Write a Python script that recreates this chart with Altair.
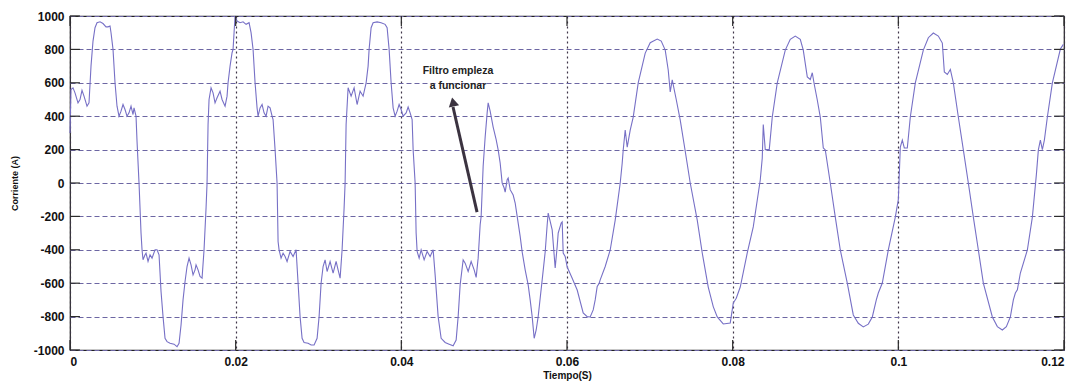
import altair as alt
import pandas as pd

# Time samples (ms) and line current (A)
t_ms = [
    0.000, 0.121, 0.362, 0.604, 0.966, 1.208, 1.449, 1.691, 2.053, 2.295,
    2.536, 2.778, 3.019, 3.261, 3.623, 3.985, 4.348, 4.589, 4.831, 4.952,
    5.193, 5.435, 5.676, 5.918, 6.159, 6.401, 6.642, 6.884, 7.126, 7.367,
    7.609, 7.729, 7.971, 8.092, 8.333, 8.575, 8.696, 8.816, 9.058, 9.179,
    9.420, 9.662, 9.903, 10.266, 10.507, 10.749, 10.990, 11.232, 11.473, 11.715,
    12.077, 12.560, 12.922, 13.164, 13.406, 13.647, 13.889, 14.130, 14.372, 14.613,
    14.855, 15.096, 15.217, 15.459, 15.700, 15.942, 16.183, 16.425, 16.546,
    16.667, 16.787, 17.029, 17.270, 17.512, 17.754, 18.116, 18.357, 18.720, 18.961,
    19.082, 19.323, 19.565, 19.686, 19.806, 19.927, 20.169, 20.531, 20.893, 21.256,
    21.618, 21.859, 22.101, 22.342, 22.584, 22.705, 22.946, 23.188, 23.429, 23.671,
    23.912, 24.154, 24.396, 24.516, 24.758, 24.999, 25.120, 25.241, 25.482, 25.724,
    25.966, 26.207, 26.569, 26.932, 27.294, 27.536, 27.777, 28.019, 28.260, 28.743,
    29.106, 29.468, 29.830, 30.072, 30.313, 30.555, 30.796, 31.038, 31.400, 31.763,
    32.125, 32.366, 32.608, 32.849, 33.091, 33.212,
    33.333, 33.574, 33.936, 34.299, 34.661, 35.023, 35.386, 35.748, 35.989, 36.110,
    36.352, 36.593, 37.076, 37.559, 38.043, 38.284, 38.526, 38.767, 39.009, 39.250,
    39.492, 39.733, 39.975, 40.216, 40.579, 40.820, 41.062, 41.303, 41.424, 41.666,
    41.786, 41.907, 42.149, 42.390, 42.753, 43.115, 43.477, 43.840, 44.081, 44.443,
    44.806, 45.289, 45.772, 46.255, 46.617, 46.859, 47.100, 47.463, 47.704, 48.066,
    48.429, 48.791, 49.033, 49.274, 49.516, 49.636, 49.878, 50.120, 50.361, 50.482,
    50.723, 51.086, 51.448, 51.690, 51.931, 52.173, 52.414, 52.535, 52.776, 52.897,
    53.139, 53.501, 53.743, 53.984, 54.347, 54.588, 54.950, 55.313, 55.554, 55.796,
    56.037, 56.279, 56.520, 56.762, 57.004, 57.366, 57.607, 57.728, 57.970, 58.211,
    58.573, 58.815, 58.936, 59.298, 59.419, 59.540, 59.781, 60.023, 60.627, 61.230,
    61.955, 62.438, 62.800, 63.163, 63.404, 63.646, 63.887, 64.008, 64.612, 65.216,
    65.820, 66.424, 66.665, 66.786, 67.027, 67.269, 67.631, 67.994, 68.597, 69.443,
    70.047, 70.892, 71.375, 71.858, 72.220, 72.462, 72.704, 73.187, 73.670, 74.274,
    74.877, 75.723, 76.327, 77.051, 77.655, 78.138, 78.863, 79.708, 80.071, 80.433,
    80.916, 81.761, 82.486, 83.331, 83.573, 83.694, 83.935, 84.418, 84.781, 85.384,
    86.351, 86.954, 87.558, 88.162, 88.524, 89.007, 89.370, 89.611, 89.853, 90.215,
    90.578, 90.940, 91.181, 91.785, 92.389, 92.993, 93.838, 94.563, 95.167, 95.771,
    96.374, 96.858, 97.341, 97.582, 98.065, 98.790, 99.635, 99.998, 100.239, 100.481,
    100.722, 101.084, 101.447, 102.051, 103.017, 103.621, 104.225, 104.828, 105.311, 105.553,
    105.915, 106.278, 106.640, 107.244, 107.848, 108.451, 109.055, 109.659, 110.263, 111.350,
    111.954, 112.558, 113.041, 113.524, 113.886, 114.128, 114.369, 114.732, 115.577, 116.181,
    116.664, 116.905, 117.147, 117.388, 117.630, 117.992, 118.596, 119.562, 119.925,
]

corriente = [
    300, 560, 570, 540, 480, 500, 555, 520, 460, 480,
    700, 850, 930, 960, 965, 955, 935, 935, 940, 900,
    800, 600, 460, 400, 430, 470, 440, 400, 420, 460,
    410, 450, 400, 250, 0, -300, -400, -460, -430, -420,
    -470, -430, -450, -400, -400, -430, -650, -800, -930, -950,
    -960, -965, -980, -960, -850, -700, -590, -500, -450, -490,
    -550, -520, -490, -520, -560, -570, -400, -150, 0,
    350, 500, 570, 540, 480, 510, 550, 500, 460, 520,
    600, 700, 780, 800, 900, 1000, 970, 960, 965, 950,
    960, 900, 800, 600, 450, 400, 450, 470, 420, 400,
    460, 450, 400, 380, 200, 0, -350, -400, -450, -420,
    -440, -470, -410, -440, -400, -600, -800, -930, -955, -960,
    -970, -970, -930, -800, -600, -500, -460, -530, -470, -540,
    -470, -520, -570, -400, -150, 0,
    350, 570, 520, 570, 470, 550, 520, 600, 700, 800,
    930, 960, 965, 960, 950, 930, 800, 600, 450, 400,
    430, 470, 440, 400, 420, 455, 420, 380, 200, 0,
    -300, -410, -450, -400, -460, -410, -440, -400, -550, -800,
    -930, -955, -965, -975, -940, -800, -610, -460, -480, -530,
    -470, -520, -565, -450, -250, -200, 100, 275, 420, 480,
    430, 335, 260, 198, 120, 0, -30, -55, 20, 30,
    -40, -72, -120, -200, -320, -413, -520, -610, -700, -800,
    -930, -880, -800, -690, -580, -413, -250, -180, -230, -281,
    -509, -380, -300, -240, -233, -420, -440, -503, -570, -641,
    -778, -800, -802, -760, -700, -620, -600, -580, -500, -401,
    -222, 0, 120, 198, 317, 215, 317, 395, 599, 778,
    840, 862, 850, 796, 677, 545, 617, 500, 377, 190,
    0, -222, -419, -623, -740, -802, -844, -838, -719, -690,
    -623, -419, -263, 18, 150, 350, 200, 200, 395, 599,
    796, 860, 880, 860, 796, 635, 620, 660, 590, 497,
    395, 210, 198, 0, -204, -401, -599, -790, -840, -862,
    -845, -802, -700, -659, -599, -401, -204, -100, 215, 257,
    210, 210, 395, 599, 796, 870, 898, 880, 838, 665,
    650, 680, 599, 395, 198, 0, -204, -401, -599, -802,
    -860, -880, -860, -802, -700, -659, -640, -539, -401, -204,
    50, 198, 257, 200, 257, 395, 599, 802, 830,
]

x_ticks = [0, 0.02, 0.04, 0.06, 0.08, 0.1, 0.12]
y_ticks = [-1000, -800, -600, -400, -200, 0, 200, 400, 600, 800, 1000]

nota_lineas = ["Filtro empleza", "a funcionar"]
nota_t = 0.04684
nota_i = [671, 581]
flecha_cola = (0.04914, -174)
flecha_punta = (0.04624, 485)

W, H = 994, 334
X_DOM = [0, 0.12]
Y_DOM = [-1000, 1000]

df = pd.DataFrame({"t": [v / 1000 for v in t_ms], "i": corriente})

x_scale = alt.Scale(domain=X_DOM, nice=False, zero=False)
y_scale = alt.Scale(domain=Y_DOM, nice=False, zero=False)

senal = alt.Chart(df).mark_line(color="#7770c6", strokeWidth=1.1).encode(
    x=alt.X(
        "t:Q",
        scale=x_scale,
        axis=alt.Axis(
            values=x_ticks,
            tickCount=len(x_ticks),
            format=".2~f",
            title="Tiempo(S)",
            grid=True,
            gridDash=[2, 3],
            gridColor="#3e3548",
            gridWidth=1.2,
            ticks=False,
            domain=False,
            labelPadding=6,
            titlePadding=3,
            labelOverlap=False,
        ),
    ),
    y=alt.Y(
        "i:Q",
        scale=y_scale,
        axis=alt.Axis(
            values=y_ticks,
            tickCount=len(y_ticks),
            labelExpr="'' + datum.value",
            title="Corriente (A)",
            grid=True,
            gridDash=[5, 3],
            gridColor="#6d66a3",
            gridWidth=1.1,
            ticks=False,
            domain=False,
            labelPadding=6,
            titlePadding=14,
            labelOverlap=False,
        ),
    ),
)

# Inner tick marks on all four sides
tick_len_y = 60
tick_len_x = 0.0012
ticks_bottom = pd.DataFrame({"t": x_ticks, "a": [Y_DOM[0]] * len(x_ticks), "b": [Y_DOM[0] + tick_len_y] * len(x_ticks)})
ticks_top = pd.DataFrame({"t": x_ticks, "a": [Y_DOM[1]] * len(x_ticks), "b": [Y_DOM[1] - tick_len_y] * len(x_ticks)})
ticks_left = pd.DataFrame({"i": y_ticks, "a": [X_DOM[0]] * len(y_ticks), "b": [X_DOM[0] + tick_len_x] * len(y_ticks)})
ticks_right = pd.DataFrame({"i": y_ticks, "a": [X_DOM[1]] * len(y_ticks), "b": [X_DOM[1] - tick_len_x] * len(y_ticks)})

tick_color = "#2b2b2b"
tx = pd.concat([ticks_bottom, ticks_top])
ty = pd.concat([ticks_left, ticks_right])
marcas_x = alt.Chart(tx).mark_rule(color=tick_color, strokeWidth=1.2).encode(
    x=alt.X("t:Q", scale=x_scale), y=alt.Y("a:Q", scale=y_scale), y2="b:Q"
)
marcas_y = alt.Chart(ty).mark_rule(color=tick_color, strokeWidth=1.2).encode(
    y=alt.Y("i:Q", scale=y_scale), x=alt.X("a:Q", scale=x_scale), x2="b:Q"
)

# Annotation: text plus arrow
nota_df = pd.DataFrame({"t": [nota_t] * 2, "i": nota_i, "txt": nota_lineas})
nota = alt.Chart(nota_df).mark_text(
    font="Liberation Sans", fontWeight="bold", fontSize=10.5, color="#222222",
    align="center", baseline="middle",
).encode(x=alt.X("t:Q", scale=x_scale), y=alt.Y("i:Q", scale=y_scale), text="txt:N")

flecha_df = pd.DataFrame({
    "t": [flecha_cola[0]], "i": [flecha_cola[1]],
    "t2": [flecha_punta[0]], "i2": [flecha_punta[1] - 30],
})
flecha = alt.Chart(flecha_df).mark_rule(color="#3b3340", strokeWidth=3).encode(
    x=alt.X("t:Q", scale=x_scale), y=alt.Y("i:Q", scale=y_scale), x2="t2:Q", y2="i2:Q"
)
punta_df = pd.DataFrame({"t": [flecha_punta[0]], "i": [flecha_punta[1]]})
punta = alt.Chart(punta_df).mark_point(
    shape="triangle-up", filled=True, color="#3b3340", size=110, angle=348, opacity=1
).encode(x=alt.X("t:Q", scale=x_scale), y=alt.Y("i:Q", scale=y_scale))

chart = (
    alt.layer(senal, marcas_x, marcas_y, flecha, punta, nota)
    .properties(
        width=W,
        height=H,
        autosize=alt.AutoSizeParams(type="none"),
        padding={"left": 70, "top": 16, "right": 16, "bottom": 32},
        background="white",
    )
    .configure_view(stroke="#222222", strokeWidth=1.2)
    .configure_axis(
        labelFont="Liberation Sans",
        labelFontWeight="bold",
        labelFontSize=12,
        labelColor="#111111",
        titleFont="Liberation Sans",
        titleFontWeight="bold",
        titleColor="#111111",
        gridOpacity=1,
    )
    .configure_axisX(titleFontSize=10)
    .configure_axisY(titleFontSize=9)
)

chart.save("out.html", embed_options={"renderer": "svg", "actions": False})
